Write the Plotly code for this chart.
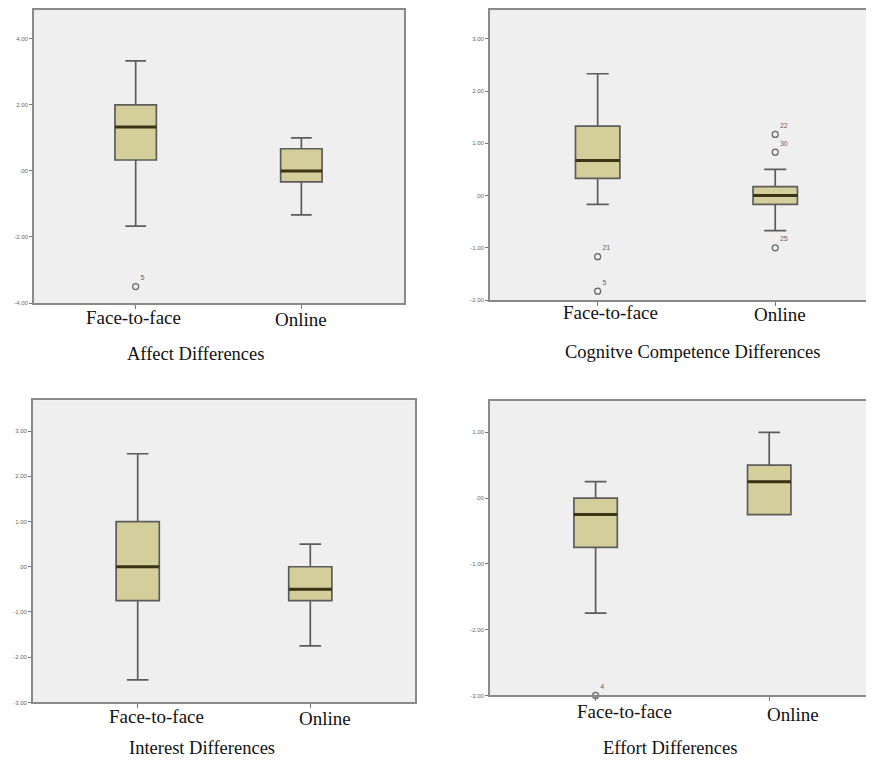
import plotly.graph_objects as go

# ---------------- data ----------------
categories = ["Face-to-face", "Online"]

affect_lower = [-1.67, -1.33]
affect_q1 = [0.33, -0.33]
affect_median = [1.33, 0.0]
affect_q3 = [2.0, 0.67]
affect_upper = [3.33, 1.0]
affect_out_cat = [0]
affect_out_val = [-3.5]
affect_out_id = ["5"]

cog_lower = [-0.17, -0.67]
cog_q1 = [0.33, -0.17]
cog_median = [0.67, 0.0]
cog_q3 = [1.33, 0.17]
cog_upper = [2.33, 0.5]
cog_out_cat = [0, 0, 1, 1, 1]
cog_out_val = [-1.17, -1.83, 1.17, 0.83, -1.0]
cog_out_id = ["21", "5", "22", "30", "25"]

int_lower = [-2.5, -1.75]
int_q1 = [-0.75, -0.75]
int_median = [0.0, -0.5]
int_q3 = [1.0, 0.0]
int_upper = [2.5, 0.5]
int_out_cat = []
int_out_val = []
int_out_id = []

eff_lower = [-1.75, -0.25]
eff_q1 = [-0.75, -0.25]
eff_median = [-0.25, 0.25]
eff_q3 = [0.0, 0.5]
eff_upper = [0.25, 1.0]
eff_out_cat = [0]
eff_out_val = [-3.0]
eff_out_id = ["4"]

affect_ticks = [4, 2, 0, -2, -4]
cog_ticks = [3, 2, 1, 0, -1, -2]
int_ticks = [3, 2, 1, 0, -1, -2, -3]
eff_ticks = [1, 0, -1, -2, -3]

titles = ["Affect Differences", "Cognitve Competence Differences",
          "Interest Differences", "Effort Differences"]

# ---------------- styling / layout ----------------
OFF = 8  # page body margin
W, H = 874 - OFF, 764 - OFF
BOX_W = 0.25
FILL = "#d4ce9b"
LINE = "#5c5c5c"
MEDIAN = "#3a3316"
FRAME = "#8a8a8a"
BG = "#efefef"
SERIF = "Liberation Serif, Times New Roman, serif"


def fmt(v):
    s = "%.2f" % v
    if s.startswith("0"):
        s = s[1:]
    elif s.startswith("-0"):
        s = "-" + s[2:]
    return s


panels = [
    dict(lower=affect_lower, q1=affect_q1, med=affect_median, q3=affect_q3, upper=affect_upper,
         oc=affect_out_cat, ov=affect_out_val, oid=affect_out_id, ticks=affect_ticks,
         px=(34, 405), py=(8, 303), xr=[-0.614, 1.620], yr=[-4, 4.87],
         lab=[(134, 318), (302, 320)], title=(196, 354), tick_px=[136, 302]),
    dict(lower=cog_lower, q1=cog_q1, med=cog_median, q3=cog_q3, upper=cog_upper,
         oc=cog_out_cat, ov=cog_out_val, oid=cog_out_id, ticks=cog_ticks,
         px=(491, 874), py=(8, 300), xr=[-0.607, 1.545], yr=[-2, 3.55],
         lab=[(612, 313), (782, 315)], title=(695, 352), tick_px=[599, 777]),
    dict(lower=int_lower, q1=int_q1, med=int_median, q3=int_q3, upper=int_upper,
         oc=int_out_cat, ov=int_out_val, oid=int_out_id, ticks=int_ticks,
         px=(33, 416), py=(401, 705), xr=[-0.607, 1.607], yr=[-3, 3.68],
         lab=[(157, 719), (326, 721)], title=(202, 751), tick_px=[138, 311]),
    dict(lower=eff_lower, q1=eff_q1, med=eff_median, q3=eff_q3, upper=eff_upper,
         oc=eff_out_cat, ov=eff_out_val, oid=eff_out_id, ticks=eff_ticks,
         px=(491, 874), py=(402, 698), xr=[-0.609, 1.592], yr=[-3, 1.47],
         lab=[(626, 714), (795, 717)], title=(672, 751), tick_px=[597, 771]),
]

fig = go.Figure()
layout = dict(width=W, height=H, margin=dict(l=0, r=0, t=0, b=0),
              paper_bgcolor="white", showlegend=False)
annotations = []
shapes = []

for i, p in enumerate(panels):
    n = i + 1
    xa = "x" if n == 1 else "x%d" % n
    ya = "y" if n == 1 else "y%d" % n
    xkey = "xaxis" if n == 1 else "xaxis%d" % n
    ykey = "yaxis" if n == 1 else "yaxis%d" % n
    pos = list(range(len(categories)))

    fig.add_trace(go.Box(
        x=pos, q1=p["q1"], median=p["med"], q3=p["q3"],
        lowerfence=p["lower"], upperfence=p["upper"],
        width=BOX_W, whiskerwidth=0.5, fillcolor=FILL,
        line=dict(color=LINE, width=1.7), boxpoints=False,
        xaxis=xa, yaxis=ya, hoverinfo="skip"))

    # thick median bars
    mx, my = [], []
    for c, m in zip(pos, p["med"]):
        mx += [c - BOX_W / 2, c + BOX_W / 2, None]
        my += [m, m, None]
    fig.add_trace(go.Scatter(x=mx, y=my, mode="lines",
                             line=dict(color=MEDIAN, width=3),
                             xaxis=xa, yaxis=ya, hoverinfo="skip"))

    if p["ov"]:
        fig.add_trace(go.Scatter(
            x=p["oc"], y=p["ov"], text=p["oid"], mode="markers+text",
            textposition="top right",
            textfont=dict(size=7, color="#666666", family="Arial"),
            marker=dict(symbol="circle-open", size=6, color="#6a6a6a",
                        line=dict(width=1.3, color="#6a6a6a")),
            xaxis=xa, yaxis=ya, hoverinfo="skip", cliponaxis=False))

    x0, x1 = [v - OFF for v in p["px"]]
    y0, y1 = [v - OFF for v in p["py"]]
    layout[xkey] = dict(domain=[x0 / W, min(x1 / W, 1.0)], range=p["xr"], anchor=ya,
                        tickvals=pos, ticktext=["", ""], ticks="outside",
                        ticklen=4, tickcolor="#777", showgrid=False, zeroline=False,
                        showline=True, linecolor=FRAME, linewidth=1.6, mirror=True,
                        fixedrange=True)
    layout[ykey] = dict(domain=[1 - y1 / H, 1 - y0 / H], range=p["yr"], anchor=xa,
                        tickvals=p["ticks"], ticktext=[fmt(v) for v in p["ticks"]],
                        ticks="outside", ticklen=3, tickcolor="#777",
                        tickfont=dict(size=6, color="#666", family="Arial"),
                        showgrid=False, zeroline=False, showline=True,
                        linecolor=FRAME, linewidth=1.6, mirror=True, fixedrange=True)
    shapes.append(dict(
        type="rect", xref="paper", yref="paper", layer="below",
        x0=x0 / W, x1=min(x1 / W, 1.0), y0=1 - y1 / H, y1=1 - y0 / H,
        fillcolor=BG, line=dict(width=0)))

    for c, (lx, ly) in enumerate(p["lab"]):
        annotations.append(dict(
            x=c, xref=xa, xshift=lx - p["tick_px"][c],
            y=1 - (ly - OFF) / H, yref="paper", text=categories[c], showarrow=False,
            xanchor="center", yanchor="middle",
            font=dict(family=SERIF, size=19, color="#111")))
    tx, ty = p["title"]
    annotations.append(dict(
        x=(tx - OFF) / W, y=1 - (ty - OFF) / H, xref="paper", yref="paper", text=titles[i],
        showarrow=False, xanchor="center", yanchor="middle",
        font=dict(family=SERIF, size=18.5, color="#111")))

layout["annotations"] = annotations
layout["shapes"] = shapes
layout["plot_bgcolor"] = BG
fig.update_layout(**layout)
fig.write_html("out.html")
